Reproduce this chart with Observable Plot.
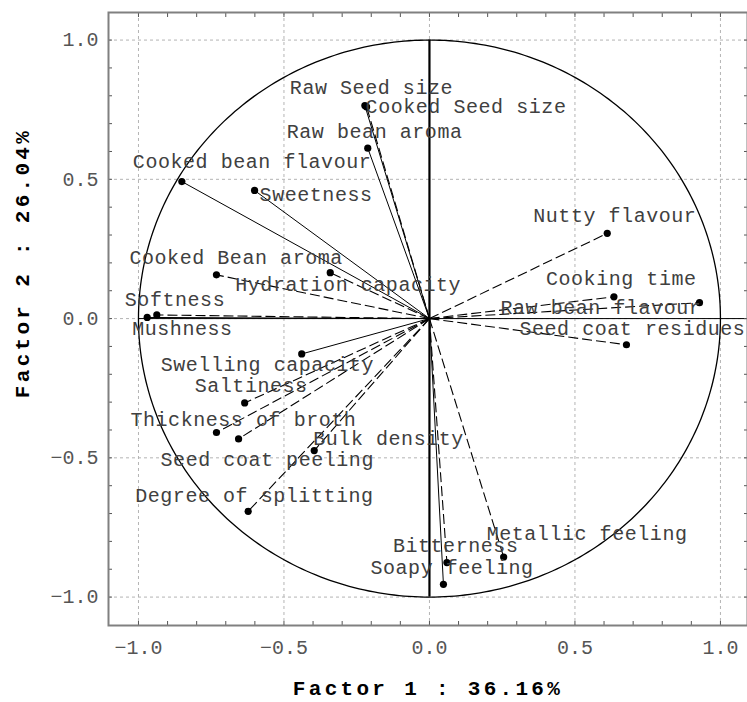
<!DOCTYPE html>
<html>
<head>
<meta charset="utf-8">
<script src="https://cdn.jsdelivr.net/npm/d3@7"></script>
<script src="https://cdn.jsdelivr.net/npm/@observablehq/plot@0.6"></script>
<style>
  html, body { margin: 0; padding: 0; background: #fff; }
</style>
</head>
<body>
<div id="chart"></div>
<script>
// ---- data ----
const variables = [
  "Raw Seed size", "Cooked Seed size", "Raw bean aroma", "Cooked bean flavour",
  "Sweetness", "Cooked Bean aroma", "Hydration capacity", "Softness", "Mushness",
  "Swelling capacity", "Saltiness", "Thickness of broth", "Seed coat peeling",
  "Bulk density", "Degree of splitting", "Bitterness", "Soapy feeling",
  "Metallic feeling", "Nutty flavour", "Cooking time", "Raw bean flavour",
  "Seed coat residues"
];
const factor1 = [
  -0.222, -0.216, -0.212, -0.851, -0.601, -0.732, -0.341, -0.937, -0.970,
  -0.439, -0.635, -0.732, -0.656, -0.396, -0.623, 0.060, 0.048, 0.255,
  0.611, 0.634, 0.928, 0.677
];
const factor2 = [
  0.765, 0.760, 0.612, 0.492, 0.460, 0.157, 0.165, 0.013, 0.004,
  -0.127, -0.303, -0.409, -0.432, -0.474, -0.692, -0.876, -0.954, -0.856,
  0.306, 0.078, 0.057, -0.094
];
const xTitle = "Factor 1 : 36.16%";
const yTitle = "Factor 2 : 26.04%";
const majorTicks = [-1.0, -0.5, 0.0, 0.5, 1.0];
const minorTicks = [-1.0, -0.9, -0.8, -0.7, -0.6, -0.5, -0.4, -0.3, -0.2, -0.1, 0.0,
                    0.1, 0.2, 0.3, 0.4, 0.5, 0.6, 0.7, 0.8, 0.9, 1.0];

// ---- presentation (kept apart from the data) ----
const lineDashed = [
  false, true, false, false, false, true, true, true, false,
  false, true, true, true, true, true, true, false, true,
  true, true, true, true
];
const labelDx = [-75, -1, -81, -49, 5, -87, -95, -32, -15, -141, -50, -86, -78, -1, -113, -54, -73, -17, -74, -68, -199, -107];
const labelDy = [-18, 0, -17, -20, 4, -17, 12, -15, 11, 11, -17, -13, 21, -12, -16, -17, -17, -23, -18, -18, 5, -16];

const rows = variables.map((name, i) => ({
  name, x: factor1[i], y: factor2[i], dashed: lineDashed[i], dx: labelDx[i], dy: labelDy[i]
}));

// unit circle (geometric reference, not data)
const circle = d3.range(0, 361, 1).map(a => ({x: Math.cos(a * Math.PI / 180), y: Math.sin(a * Math.PI / 180)}));

const font = "'Liberation Mono', 'Courier New', monospace";
const fmt = d3.format(".1f");

const marks = [
  Plot.gridX(majorTicks, {stroke: "#b4b4b4", strokeOpacity: 1, strokeDasharray: "3,3"}),
  Plot.gridY(majorTicks, {stroke: "#b4b4b4", strokeOpacity: 1, strokeDasharray: "3,3"}),
  Plot.line(circle, {x: "x", y: "y", stroke: "#000", strokeWidth: 1.3}),
  Plot.ruleY([0], {x1: -1, x2: 1.2, stroke: "#000", strokeWidth: 1}),
  Plot.ruleX([0], {y1: -1, y2: 1, stroke: "#000", strokeWidth: 2.2}),
  Plot.link(rows.filter(d => !d.dashed), {x1: () => 0, y1: () => 0, x2: "x", y2: "y", stroke: "#000", strokeWidth: 1}),
  Plot.link(rows.filter(d => d.dashed), {x1: () => 0, y1: () => 0, x2: "x", y2: "y", stroke: "#000", strokeWidth: 1.1, strokeDasharray: "10,4"}),
  Plot.dot(rows, {x: "x", y: "y", r: 3.6, fill: "#000", stroke: "none"}),
  ...rows.map(d => Plot.text([d], {
    x: "x", y: "y", text: "name", dx: d.dx, dy: d.dy,
    textAnchor: "start", lineAnchor: "middle", fill: "#404040",
    fontSize: 20, fontFamily: font
  })),
  Plot.axisX(minorTicks, {anchor: "bottom", tickSize: -4, tickFormat: () => "", stroke: "#555", label: null}),
  Plot.axisX(minorTicks, {anchor: "top", tickSize: -4, tickFormat: () => "", stroke: "#555", label: null}),
  Plot.axisY(minorTicks, {anchor: "left", tickSize: -4, tickFormat: () => "", stroke: "#555", label: null}),
  Plot.axisY(minorTicks, {anchor: "right", tickSize: -4, tickFormat: () => "", stroke: "#555", label: null}),
  Plot.axisX(majorTicks, {anchor: "bottom", tickSize: 0, tickPadding: 14, tickFormat: fmt, fill: "#555", fontSize: 20, fontFamily: font, label: null}),
  Plot.axisY(majorTicks, {anchor: "left", tickSize: 0, tickPadding: 10, tickFormat: fmt, fill: "#555", fontSize: 20, fontFamily: font, label: null}),
  Plot.frame({stroke: "#808080", strokeWidth: 2}),
  Plot.text([xTitle], {frameAnchor: "bottom", dy: 63, text: d => d, textAnchor: "middle", fontSize: 21, fontWeight: "bold", fontFamily: font, fill: "#000", lineAnchor: "middle"}),
  Plot.text([yTitle], {frameAnchor: "left", dx: -86, dy: -56, rotate: -90, text: d => d, textAnchor: "middle", fontSize: 21, fontWeight: "bold", fontFamily: font, fill: "#000", lineAnchor: "middle"})
];

const chart = Plot.plot({
  width: 747,
  height: 702,
  marginLeft: 108,
  marginRight: 0,
  marginTop: 12,
  marginBottom: 77,
  x: {domain: [-1.103, 1.093], axis: null},
  y: {domain: [-1.102, 1.099], axis: null},
  style: {background: "#fff", fontFamily: font},
  marks
});
d3.select(chart).selectAll("text")
  .filter(function () { return variables.includes(this.textContent); })
  .style("letter-spacing", "0.55px");
d3.select(chart).selectAll("text")
  .filter(function () { return this.textContent === xTitle || this.textContent === yTitle; })
  .style("letter-spacing", "3.3px");
document.getElementById("chart").appendChild(chart);
</script>
</body>
</html>
